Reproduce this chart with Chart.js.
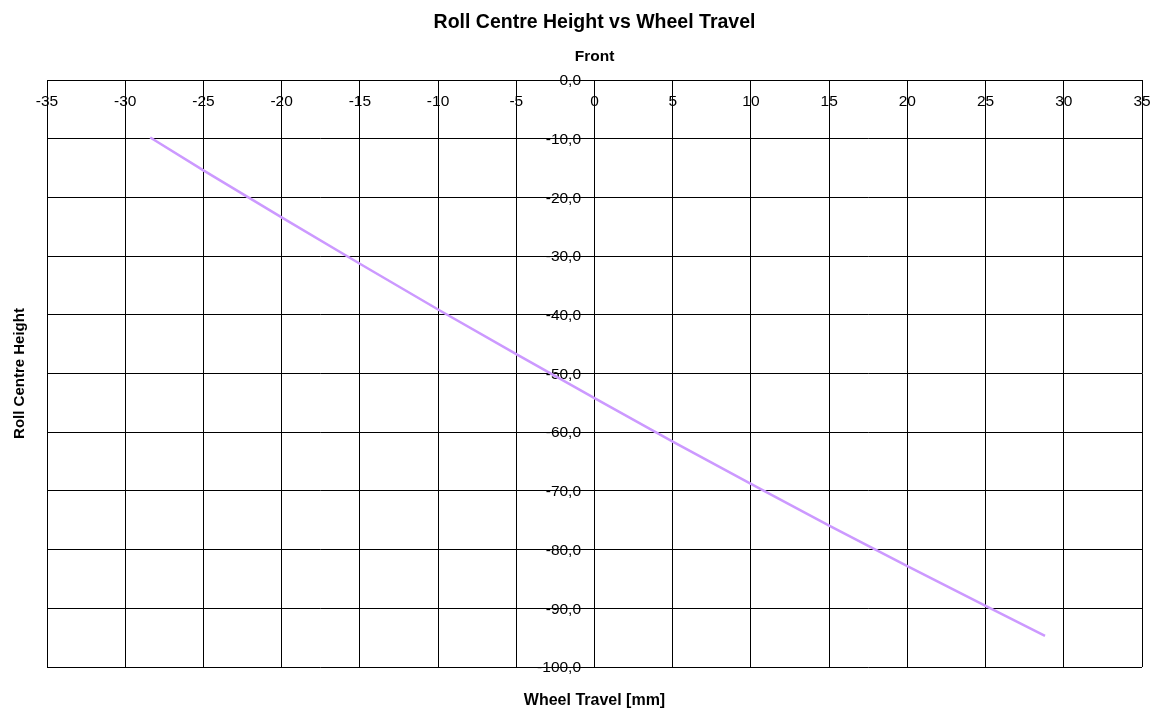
<!DOCTYPE html>
<html>
<head>
<meta charset="utf-8">
<title>Roll Centre Height vs Wheel Travel</title>
<script src="https://cdn.jsdelivr.net/npm/chart.js@4.4.1/dist/chart.umd.min.js"></script>
<style>
  html, body { margin: 0; padding: 0; background: #ffffff; }
  #wrap { width: 1158px; height: 708px; }
</style>
</head>
<body>
<div id="wrap"><canvas id="chart" width="1158" height="708"></canvas></div>
<script>
// Wheel travel [mm] and the matching front roll centre height
const wheelTravel = [-28.4, -25, -20, -15, -10, -5, 0, 5, 10, 15, 20, 25, 28.8];
const rollCentreHeight = [-9.8, -15.4, -23.4, -31.3, -39.1, -46.7, -54.2, -61.6, -68.8, -75.9, -82.8, -89.6, -94.7];

// Axis ranges and tick steps
const xRange = { min: -35, max: 35, step: 5 };
const yRange = { min: -100, max: 0, step: 10 };

const titleText = 'Roll Centre Height vs Wheel Travel';
const subtitleText = 'Front';
const xAxisTitle = 'Wheel Travel [mm]';
const yAxisTitle = 'Roll Centre Height';

const points = wheelTravel.map((x, i) => ({ x: x, y: rollCentreHeight[i] }));

const FONT = "'Liberation Sans', Arial, sans-serif";
const tickFont = { family: FONT, size: 15.5 };
const fmtHeight = (v) => v.toFixed(1).replace('.', ',');

// Title-only axes: no ticks, no grid, no border
const titleAxis = (axis, position, text, size, padding) => ({
  type: 'linear',
  axis: axis,
  position: position,
  min: axis === 'x' ? xRange.min : yRange.min,
  max: axis === 'x' ? xRange.max : yRange.max,
  ticks: { display: false },
  grid: { display: false, drawTicks: false },
  border: { display: false },
  title: {
    display: true,
    text: text,
    color: '#000',
    font: { family: FONT, size: size, weight: 'bold', lineHeight: 1.2 },
    padding: padding
  }
});

new Chart(document.getElementById('chart'), {
  type: 'scatter',
  data: {
    datasets: [{
      label: subtitleText,
      data: points,
      showLine: true,
      borderColor: '#CC99FF',
      backgroundColor: '#CC99FF',
      borderWidth: 2.5,
      pointRadius: 0,
      pointHoverRadius: 0,
      tension: 0
    }]
  },
  options: {
    responsive: false,
    animation: false,
    events: [],
    layout: { padding: { left: 0, right: 16, top: 0, bottom: 0 } },
    plugins: {
      legend: { display: false },
      tooltip: { enabled: false },
      title: {
        display: true,
        text: titleText,
        fullSize: false,
        color: '#000',
        font: { family: FONT, size: 19.5, weight: 'bold', lineHeight: 1.2 },
        padding: { top: 10.5, bottom: 12 }
      },
      subtitle: {
        display: true,
        text: subtitleText,
        fullSize: false,
        color: '#000',
        font: { family: FONT, size: 15.5, weight: 'bold', lineHeight: 1.2 },
        padding: { top: 1.3, bottom: 14.2 }
      }
    },
    scales: {
      x: {
        type: 'linear',
        axis: 'x',
        position: { y: 0 },
        min: xRange.min,
        max: xRange.max,
        ticks: {
          stepSize: xRange.step,
          color: '#000',
          font: tickFont,
          padding: 4.5,
          maxRotation: 0,
          autoSkip: false,
          callback: (v) => String(v)
        },
        grid: { color: '#000', lineWidth: 1, tickLength: 8, tickColor: '#000' },
        border: { display: true, color: '#000', width: 1 }
      },
      y: {
        type: 'linear',
        axis: 'y',
        position: { x: 0 },
        min: yRange.min,
        max: yRange.max,
        ticks: { stepSize: yRange.step, display: false },
        grid: { color: '#000', lineWidth: 1, tickLength: 8, tickColor: '#000' },
        border: { display: true, color: '#000', width: 1 }
      },
      // Height labels sit just left of the vertical axis line
      yTicks: {
        type: 'linear',
        axis: 'y',
        position: { x: -0.86 },
        min: yRange.min,
        max: yRange.max,
        ticks: {
          stepSize: yRange.step,
          color: '#000',
          font: tickFont,
          padding: 0,
          labelOffset: 1,
          autoSkip: false,
          callback: fmtHeight
        },
        grid: { display: false, drawTicks: false },
        border: { display: false }
      },
      xTitle: titleAxis('x', 'bottom', xAxisTitle, 16, { top: 24.4, bottom: -2.6 }),
      yTitle: titleAxis('y', 'left', yAxisTitle, 15, { top: 10.5, bottom: 18.5 })
    }
  }
});
</script>
</body>
</html>
